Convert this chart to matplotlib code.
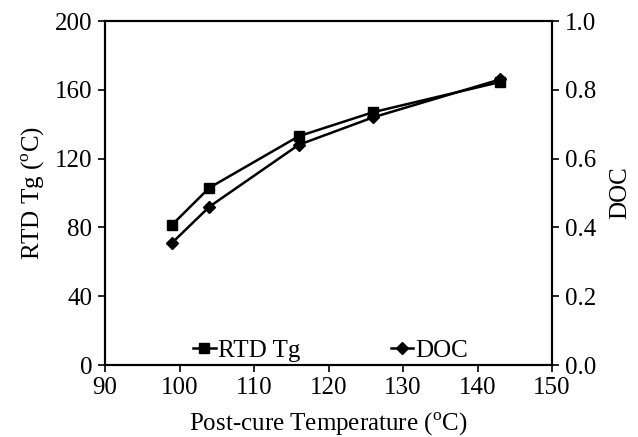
import matplotlib
matplotlib.use("Agg")
import matplotlib.pyplot as plt

temps = [99, 104, 116, 126, 143]
rtd_tg = [81.5, 103, 133, 147, 164.5]
doc = [0.355, 0.46, 0.64, 0.72, 0.83]

plt.rcParams['font.family'] = ['Liberation Serif', 'DejaVu Serif']
fs = 18

fig = plt.figure(figsize=(6.38, 4.37), dpi=100)
ax = fig.add_axes([105/638, 1-365/437, (552-105)/638, (365-21)/437])
ax2 = ax.twinx()

l1, = ax.plot(temps, rtd_tg, color='black', lw=1.8, marker='s', ms=7.5, label='RTD Tg')
l2, = ax2.plot(temps, doc, color='black', lw=1.8, marker='D', ms=6.5, label='DOC')

ax.set_xlim(90, 150)
ax.set_ylim(0, 200)
ax2.set_ylim(0, 1.0)
ax.set_xticks([90, 100, 110, 120, 130, 140, 150])
ax.set_yticks([0, 40, 80, 120, 160, 200])
ax2.set_yticks([0, 0.2, 0.4, 0.6, 0.8, 1.0])
ax2.set_yticklabels(['0.0', '0.2', '0.4', '0.6', '0.8', '1.0'])

for a in (ax, ax2):
    a.tick_params(direction='out', length=5, width=1.2, labelsize=fs, colors='black', pad=4)
    for s in a.spines.values():
        s.set_linewidth(1.5)

ax.set_xlabel('Post-cure Temperature ($^{\\mathregular{o}}$C)', fontsize=fs, labelpad=8)
ax.set_ylabel('RTD Tg ($^{\\mathregular{o}}$C)', fontsize=fs, labelpad=6)
ax2.set_ylabel('DOC', fontsize=fs, labelpad=10)

ax.legend([l1, l2], ['RTD Tg', 'DOC'], loc='lower center', ncol=2, frameon=False,
          fontsize=fs, handlelength=0.9, handletextpad=0.1, columnspacing=3.6,
          borderaxespad=0.0, bbox_to_anchor=(0.505, -0.02))

fig.savefig('out.png', dpi=100)
